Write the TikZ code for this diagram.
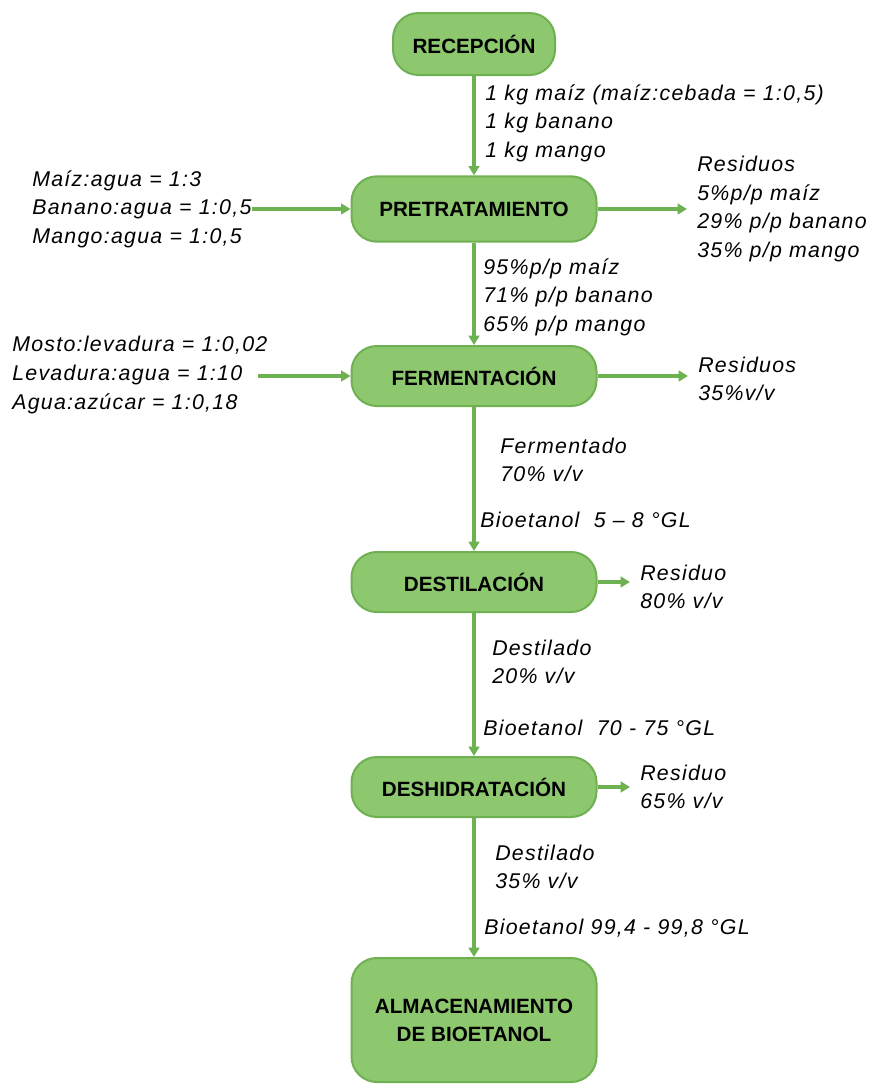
\documentclass[tikz,border=0pt]{standalone}
\usepackage{fontspec}
\setmainfont{Liberation Sans}
\newfontfamily\notefont{Liberation Sans}[LetterSpace=6]
\usepackage{tikz}
\usetikzlibrary{arrows.meta}

\definecolor{boxfill}{RGB}{141,200,111}
\definecolor{boxline}{RGB}{110,176,82}
\definecolor{flow}{RGB}{108,178,80}

\begin{document}
\begin{tikzpicture}[
  x=0.75pt, y=-0.75pt,
  >={Triangle[length=7pt,width=8pt]},
  block/.style={draw=boxline, line width=1.5pt, fill=boxfill, rounded corners=19pt, minimum width=183.75pt, minimum height=45pt, align=center, font=\bfseries\fontsize{15.5}{21}\selectfont},
  note/.style={anchor=west, align=left, inner sep=0pt, font=\notefont\itshape\fontsize{16}{21.4}\selectfont},
  arr/.style={->, flow, line width=2.4pt},
  outarr/.style={arr, shorten >=7.5pt}
]
\useasboundingbox (0,0) rectangle (874,1086);

% process steps
\node[block, minimum width=121.5pt, minimum height=46.5pt] (recep) at (474,44) {RECEPCIÓN};
\node[block, minimum height=49pt] (pret) at (474,209) {PRETRATAMIENTO};
\node[block] (ferm) at (474,376) {FERMENTACIÓN};
\node[block] (dest) at (474,582) {DESTILACIÓN};
\node[block] (desh) at (474,787) {DESHIDRATACIÓN};
\node[block, minimum height=93pt] (alm) at (474,1020) {ALMACENAMIENTO\\DE BIOETANOL};

% flow labels
\node[note] (feed) at (485,123) {1 kg maíz (maíz:cebada = 1:0,5)\\1 kg banano\\1 kg mango};
\node[note] (inpret) at (32,209) {Maíz:agua = 1:3\\Banano:agua = 1:0,5\\Mango:agua = 1:0,5};
\node[note] (outpret) at (697,209) {Residuos\\5\%p/p maíz\\29\% p/p banano\\35\% p/p mango};
\node[note] (pretout) at (483,297) {95\%p/p maíz\\71\% p/p banano\\65\% p/p mango};
\node[note] (inferm) at (12,375) {Mosto:levadura = 1:0,02\\Levadura:agua = 1:10\\Agua:azúcar = 1:0,18};
\node[note] (outferm) at (698,379) {Residuos\\35\%v/v};
\node[note] (fermout) at (500,460) {Fermentado\\70\% v/v};
\node[note] (etoh1) at (480,520) {Bioetanol~~5 – 8 °GL};
\node[note] (outdest) at (640,587) {Residuo\\80\% v/v};
\node[note] (destout) at (492,662) {Destilado\\20\% v/v};
\node[note] (etoh2) at (483,728) {Bioetanol~~70 - 75 °GL};
\node[note] (outdesh) at (640,787) {Residuo\\65\% v/v};
\node[note] (deshout) at (495,867) {Destilado\\35\% v/v};
\node[note] (etoh3) at (484,928) {Bioetanol 99,4 - 99,8 °GL};

% main line
\draw[arr] (recep) -- (pret);
\draw[arr] (pret) -- (ferm);
\draw[arr] (ferm) -- (dest);
\draw[arr] (dest) -- (desh);
\draw[arr] (desh) -- (alm);

% inputs and residues
\coordinate (fermtail) at (258,376);
\draw[arr] (inpret.east) -- (pret.west);
\draw[arr] (fermtail) -- (ferm.west);
\draw[outarr] (pret.east) -- (pret.east -| outpret.west);
\draw[outarr] (ferm.east) -- (ferm.east -| outferm.west);
\draw[outarr] (dest.east) -- (dest.east -| outdest.west);
\draw[outarr] (desh.east) -- (desh.east -| outdesh.west);
\end{tikzpicture}
\end{document}
